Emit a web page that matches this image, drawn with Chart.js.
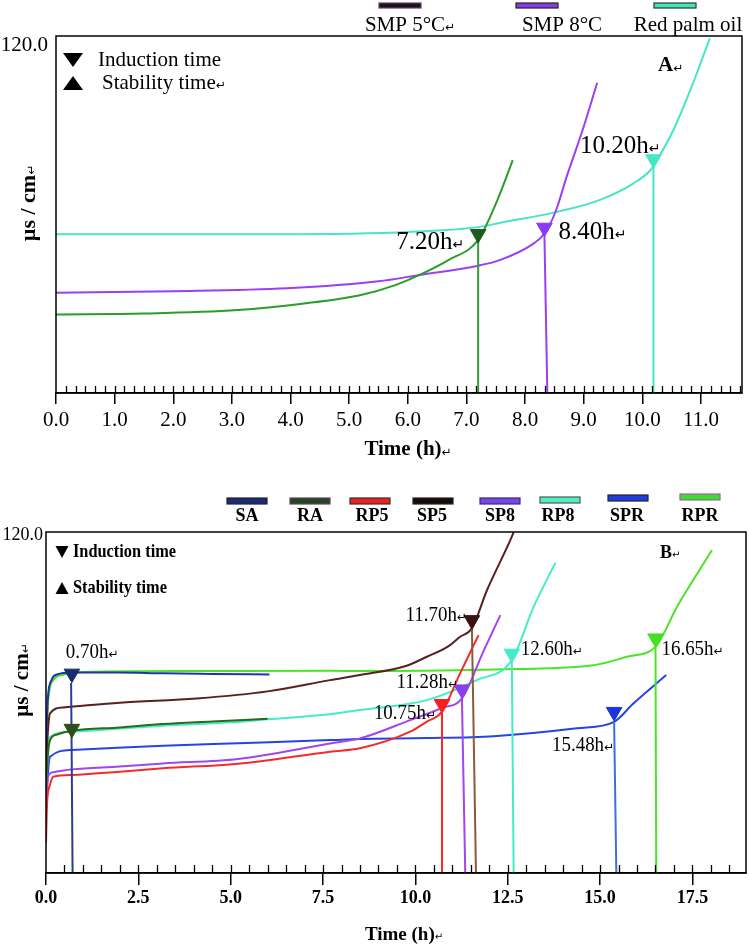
<!DOCTYPE html>
<html>
<head>
<meta charset="utf-8">
<script src="https://cdn.jsdelivr.net/npm/chart.js@4.4.1/dist/chart.umd.min.js"></script>
<style>
  body { margin: 0; background: #fff; }
  #wrap { position: relative; width: 749px; height: 950px; }
  canvas { position: absolute; left: 0; }
  #chartA { top: 0; }
  #chartB { top: 470px; }
</style>
</head>
<body>
<div id="wrap">
  <canvas id="chartA" width="749" height="470"></canvas>
  <canvas id="chartB" width="749" height="480"></canvas>
</div>
<script>
// ---------- panel A : time (h) vs conductivity ----------
const legendA = ['SMP 5°C↵', 'SMP 8°C', 'Red palm oil'];
const smp5T = [0, 1.5, 3.1, 4.2, 5.2, 5.8, 6.2, 6.7, 7.2, 7.53, 7.79];
const smp5V = [27.1, 27.4, 28.6, 30.8, 33.8, 37.3, 40.7, 45.9, 52.8, 66.6, 80.3];
const smp8T = [0, 2, 3.94, 5.5, 6.2, 7.2, 7.58, 8.15, 8.33, 8.52, 8.71, 9.0, 9.23];
const smp8V = [34.6, 35.1, 36.1, 38.5, 40.7, 43.9, 45.9, 51.6, 55.0, 62.5, 74.6, 91.8, 107];
const rpoT = [0, 3, 5.57, 6.5, 7.2, 7.58, 8.49, 9.28, 9.85, 10.14, 10.25, 10.53, 10.82, 11.15];
const rpoV = [54.7, 54.7, 55.2, 56.0, 57.2, 58.7, 62.2, 66.6, 72.3, 76.9, 80.3, 90.7, 104.5, 122.3];
const markAT = [7.2, 8.33, 10.19];
const markAV = [54.8, 57.0, 80.6];
const markALabels = ['7.20h↵', '8.40h↵', '10.20h↵'];
const dropAT0 = [7.2, 8.33, 10.19];
const dropAT1 = [7.2, 8.38, 10.19];
const dropAV0 = [52.8, 55.0, 78.5];

// ---------- panel B ----------
const legendB = ['SA', 'RA', 'RP5', 'SP5', 'SP8', 'RP8', 'SPR', 'RPR'];
const saT = [0, 0.05, 0.15, 0.3, 0.7, 2, 3.17, 4.5, 6.05];
const saV = [45, 62, 68.5, 70.5, 71.2, 71.2, 70.9, 70.7, 70.5];
const raT = [0, 0.05, 0.11, 0.3, 0.7, 2, 3.17, 4.5, 6.0];
const raV = [30, 42, 47.2, 49.2, 50.5, 51.7, 52.9, 53.8, 54.8];
const rp5T = [0, 0.03, 0.1, 0.2, 0.7, 2, 3.17, 5.2, 7.69, 8.5, 9.86, 10.3, 10.72, 11.21, 11.71];
const rp5V = [10.6, 25, 31, 34.2, 34.8, 36, 37.2, 38.8, 43.1, 44.3, 50.2, 53.7, 57.3, 70.9, 84.5];
const sp5T = [0, 0.05, 0.11, 0.47, 2, 4.08, 6, 7.69, 8.5, 9.74, 10.31, 10.9, 11.21, 11.53, 11.94, 12.57, 12.66];
const sp5V = [35, 50, 56.7, 58.8, 60.5, 62, 64.5, 68.5, 70.3, 73.5, 76.8, 80.6, 83.9, 86.9, 100.5, 118.2, 121];
const sp8T = [0, 0.05, 0.2, 0.7, 2, 3.17, 5.2, 7.69, 8.5, 9.86, 10.72, 11.26, 11.85, 12.3];
const sp8V = [22, 34.2, 35.8, 36.8, 37.8, 38.9, 40.5, 46.0, 47.8, 54.3, 58.6, 62, 79, 91.6];
const rp8T = [0, 0.05, 0.11, 0.7, 2, 3.17, 5, 6, 7.69, 8.5, 10.31, 11.66, 12.61, 13.2, 13.79];
const rp8V = [28, 42, 48.4, 50.2, 51.3, 52.3, 53.5, 54.6, 56.4, 57.9, 61.4, 68.5, 75.6, 94.5, 110.2];
const sprT = [0, 0.05, 0.11, 0.7, 3.17, 5.2, 7.69, 8.5, 10.31, 12.12, 14.37, 15.38, 15.9, 16.79];
const sprV = [22, 35, 41.3, 43.7, 45.2, 46.1, 47.2, 47.6, 47.9, 48.6, 51.4, 53.7, 60.2, 70.3];
const rprT = [0, 0.06, 0.2, 0.5, 1.37, 4, 7.7, 8.5, 12.12, 14.82, 15.73, 16.5, 17.08, 18.03];
const rprV = [38, 61.4, 68.5, 70.5, 71.5, 71.7, 71.8, 71.7, 72.3, 73.8, 76.8, 80.3, 94.5, 114.7];
const markBT = [0.7, 0.7, 10.72, 11.53, 11.26, 12.61, 15.38, 16.5];
const markBV = [70.8, 51.2, 60.0, 89.8, 65.2, 77.9, 57.2, 83.3];
const markBLabels = ['0.70h↵', '', '10.75h↵', '11.70h↵', '11.28h↵', '12.60h↵', '15.48h↵', '16.65h↵'];
const dropBT0 = [0.68, 10.72, 11.53, 11.26, 12.61, 15.38, 16.5];
const dropBT1 = [0.72, 10.72, 11.64, 11.35, 12.66, 15.44, 16.52];
const dropBV0 = [67.5, 57.3, 86.9, 62, 75.6, 53.7, 80.3];

const yTicks = [120];

// ---------- styles ----------
const SERIF = '"Liberation Serif", "Times New Roman", serif';
const colA = ['#2a9d2a', '#9b3ff0', '#45e6c5'];
const markColA = ['#1f5a1f', '#8a3af0', '#45e6c5'];
const dropColA = ['#3a9a3a', '#9b3ff0', '#45e6c5'];
const swFillA = ['#151515', '#8a3ae8', '#3fe8b8'];
const swEdgeA = ['#6a3a6a', '#222', '#333'];
const noteA = [{dx: -14, dy: 8, al: 'right'}, {dx: 14, dy: 5, al: 'left'}, {dx: 7, dy: -13, al: 'right'}];

const colB = ['#2233aa', '#2a6a1a', '#f52a2a', '#5a1f1f', '#a045f0', '#45ecc8', '#2444e8', '#4ae626'];
const markColB = ['#1c2a70', '#2d4d1d', '#f52020', '#3a1212', '#8a40e8', '#45ecc8', '#1a35e0', '#45e020'];
const dropColB = ['#27408f', '#f52a2a', '#8b5a3a', '#a045f0', '#45ecc8', '#3f6fd8', '#4ae626'];
const swFillB = ['#1d2a78', '#1e4a1e', '#f02020', '#1a0a0a', '#7b46e0', '#4ef0c0', '#1f3de0', '#3ae028'];
const swEdgeB = ['#222', '#6a3a6a', '#333', '#222', '#2a2a8a', '#555', '#222', '#a060a0'];
const noteB = [{dx: -6, dy: -21, al: 'left'}, null, {dx: -6, dy: 9, al: 'right'}, {dx: -5, dy: -5, al: 'right'},
               {dx: -4, dy: -7, al: 'right'}, {dx: 9, dy: -4, al: 'left'}, {dx: 0, dy: 33, al: 'right'},
               {dx: 6, dy: 11, al: 'left'}];

const pts = (t, v) => t.map((x, i) => ({x: x, y: v[i]}));

const curve = (t, v, color) => ({
  data: pts(t, v), borderColor: color, borderWidth: 2, pointRadius: 0,
  cubicInterpolationMode: 'monotone', fill: false, order: 3
});
const drop = (t0, t1, v0, color) => ({
  data: [{x: t0, y: v0}, {x: t1, y: 0}], borderColor: color, borderWidth: 2,
  pointRadius: 0, tension: 0, fill: false, order: 2
});
const marks = (t, v, colors) => ({
  data: pts(t, v), showLine: false, pointStyle: 'triangle', rotation: 180, pointRadius: 9,
  pointBackgroundColor: colors, pointBorderColor: colors, pointBorderWidth: 1, order: 1
});

// text with the small word-processor return mark; sx squeezes the text sideways
function label(ctx, str, x, y, size, align, weight, sx) {
  sx = sx || 1;
  const ret = str.endsWith('↵');
  const main = ret ? str.slice(0, -1) : str;
  const f1 = (weight || 'normal') + ' ' + size + 'px ' + SERIF;
  const f2 = Math.round(size * 0.55) + 'px "DejaVu Sans"';
  ctx.font = f1;
  const w1 = ctx.measureText(main).width * sx;
  let w2 = 0;
  if (ret) { ctx.font = f2; w2 = ctx.measureText('↵').width; }
  const x0 = align === 'center' ? x - (w1 + w2) / 2 : align === 'right' ? x - w1 - w2 : x;
  ctx.fillStyle = '#000';
  ctx.textAlign = 'left';
  ctx.textBaseline = 'middle';
  ctx.save();
  ctx.translate(x0, y);
  ctx.scale(sx, 1);
  ctx.font = f1;
  ctx.fillText(main, 0, 0);
  ctx.restore();
  if (ret) { ctx.font = f2; ctx.fillText('↵', x0 + w1, y + size * 0.12); }
}

function tri(ctx, cx, cy, w, h, down) {
  ctx.fillStyle = '#000';
  ctx.beginPath();
  if (down) {
    ctx.moveTo(cx - w / 2, cy - h / 2); ctx.lineTo(cx + w / 2, cy - h / 2); ctx.lineTo(cx, cy + h / 2);
  } else {
    ctx.moveTo(cx - w / 2, cy + h / 2); ctx.lineTo(cx + w / 2, cy + h / 2); ctx.lineTo(cx, cy - h / 2);
  }
  ctx.closePath();
  ctx.fill();
}

function decor(o) {
  return {
    id: 'decor' + o.name,
    afterDraw(chart) {
      const ctx = chart.ctx, a = chart.chartArea, xs = chart.scales.x, ys = chart.scales.y;
      ctx.save();
      // inward ticks on the time axis
      ctx.strokeStyle = '#000';
      ctx.lineWidth = 1.3;
      for (let i = 1; i * o.minorStep <= xs.max; i++) {
        const px = Math.round(xs.getPixelForValue(i * o.minorStep)) + 0.5;
        ctx.beginPath(); ctx.moveTo(px, a.bottom); ctx.lineTo(px, a.bottom - o.minorLen); ctx.stroke();
      }
      // frame
      ctx.lineWidth = 1.5;
      ctx.strokeRect(a.left, a.top, a.right - a.left, a.bottom - a.top);
      // legend swatches + names
      o.names.forEach((n, i) => {
        const s = o.sw[i];
        ctx.fillStyle = o.swFill[i];
        ctx.strokeStyle = o.swEdge[i];
        ctx.lineWidth = 1.2;
        ctx.fillRect(s.x, s.y, s.w, o.swH);
        ctx.strokeRect(s.x, s.y, s.w, o.swH);
        label(ctx, n, o.nameX[i], o.nameY, o.nameSize, 'center', o.nameWeight);
      });
      // key
      tri(ctx, o.key.x, o.key.y1, o.key.w, o.key.h, true);
      tri(ctx, o.key.x, o.key.y2, o.key.w, o.key.h, false);
      label(ctx, 'Induction time', o.key.tx1, o.key.y1, o.key.size, 'left', o.key.weight, o.key.sx);
      label(ctx, o.key.stab, o.key.tx2, o.key.y2, o.key.size, 'left', o.key.weight, o.key.sx);
      label(ctx, o.tag, o.tagX, o.tagY, o.tagSize, 'left', 'bold');
      // marker notes
      o.notes.forEach((txt, i) => {
        const st = o.noteStyle[i];
        if (!txt || !st) return;
        const px = xs.getPixelForValue(o.markT[i]);
        const py = ys.getPixelForValue(o.markV[i]);
        label(ctx, txt, px + st.dx, py + st.dy, o.noteSize, st.al, 'normal', o.noteSx);
      });
      // axis titles
      label(ctx, 'Time (h)↵', o.xt.x, o.xt.y, o.xt.size, 'center', 'bold');
      ctx.save();
      ctx.translate(o.yt.x, o.yt.y);
      ctx.rotate(-Math.PI / 2);
      label(ctx, 'µs / cm↵', 0, 0, o.yt.size, 'center', 'bold');
      ctx.restore();
      ctx.restore();
    }
  };
}

function options(o) {
  return {
    responsive: false, animation: false, events: [],
    layout: {autoPadding: false, padding: {top: o.top, right: o.right, left: 0, bottom: 0}},
    plugins: {legend: {display: false}, tooltip: {enabled: false}},
    scales: {
      x: {
        type: 'linear', min: 0, max: o.xMax,
        afterFit: s => { s.height = o.xH; s.paddingLeft = 0; s.paddingRight = 0; },
        ticks: {stepSize: o.step, includeBounds: false, autoSkip: false, maxRotation: 0,
                padding: o.tickPad, color: '#000', font: {family: SERIF, size: o.tickSize, weight: o.tickWeight},
                callback: v => v.toFixed(1)},
        grid: {drawOnChartArea: false, drawTicks: true, tickLength: o.tickLen, color: '#000', lineWidth: 1.5},
        border: {display: true, color: '#000', width: 1.5}
      },
      y: {
        min: 0, max: o.yMax,
        afterFit: s => { s.width = o.yW; s.paddingTop = 0; s.paddingBottom = 0; },
        afterBuildTicks: s => { s.ticks = yTicks.map(v => ({value: v})); },
        ticks: {padding: o.yPad, color: '#000', font: {family: SERIF, size: o.yTickSize},
                callback: v => v.toFixed(1)},
        grid: {display: false, drawTicks: false},
        border: {display: false}
      }
    }
  };
}

// ---------- chart A ----------
new Chart(document.getElementById('chartA'), {
  type: 'line',
  data: {
    datasets: [
      marks(markAT, markAV, markColA),
      ...dropAT0.map((t, i) => drop(t, dropAT1[i], dropAV0[i], dropColA[i])),
      curve(smp5T, smp5V, colA[0]),
      curve(smp8T, smp8V, colA[1]),
      curve(rpoT, rpoV, colA[2])
    ]
  },
  options: options({top: 36, right: 7, xMax: 11.7, xH: 77, step: 1, tickPad: 4, tickLen: 11,
                    yMax: 123.1, yW: 56, yPad: 8, tickSize: 21, tickWeight: 'normal', yTickSize: 21}),
  plugins: [decor({
    name: 'A', minorStep: 1 / 6, minorLen: 7,
    names: legendA, sw: [{x: 379, y: 3, w: 42}, {x: 516, y: 3, w: 42}, {x: 654, y: 3, w: 42}], swH: 5,
    swFill: swFillA, swEdge: swEdgeA, nameX: [410, 562, 688], nameY: 25, nameSize: 21, nameWeight: 'normal',
    key: {x: 73, y1: 60, y2: 83, w: 20, h: 14, tx1: 98, tx2: 102, size: 21, weight: 'normal', stab: 'Stability time↵'},
    tag: 'A↵', tagX: 658, tagY: 66, tagSize: 21,
    notes: markALabels, noteStyle: noteA, markT: markAT, markV: markAV, noteSize: 25,
    xt: {x: 408, y: 450, size: 21}, yt: {x: 29, y: 203, size: 22}
  })]
});

// ---------- chart B ----------
new Chart(document.getElementById('chartB'), {
  type: 'line',
  data: {
    datasets: [
      marks(markBT, markBV, markColB),
      ...dropBT0.map((t, i) => drop(t, dropBT1[i], dropBV0[i], dropColB[i])),
      curve(saT, saV, colB[0]),
      curve(raT, raV, colB[1]),
      curve(rp5T, rp5V, colB[2]),
      curve(sp5T, sp5V, colB[3]),
      curve(sp8T, sp8V, colB[4]),
      curve(rp8T, rp8V, colB[5]),
      curve(sprT, sprV, colB[6]),
      curve(rprT, rprV, colB[7])
    ]
  },
  options: options({top: 62, right: 3, xMax: 18.95, xH: 77, step: 2.5, tickPad: 3, tickLen: 12,
                    yMax: 121.1, yW: 46, yPad: 3, tickSize: 18, tickWeight: 'bold', yTickSize: 18}),
  plugins: [decor({
    name: 'B', minorStep: 0.5, minorLen: 8,
    names: legendB,
    sw: [{x: 227, y: 28, w: 40}, {x: 290, y: 28, w: 40}, {x: 350, y: 28, w: 40}, {x: 413, y: 28, w: 40},
         {x: 480, y: 28, w: 40}, {x: 540, y: 27, w: 40}, {x: 608, y: 25, w: 40}, {x: 680, y: 24, w: 40}], swH: 6,
    swFill: swFillB, swEdge: swEdgeB, nameX: [247, 310, 372, 432, 500, 558, 627, 700], nameY: 46,
    nameSize: 18, nameWeight: 'bold',
    key: {x: 62, y1: 82, y2: 118, w: 13, h: 12, tx1: 73, tx2: 73, size: 19, weight: 'bold', stab: 'Stability time', sx: 0.86},
    tag: 'B↵', tagX: 660, tagY: 83, tagSize: 18,
    notes: markBLabels, noteStyle: noteB, markT: markBT, markV: markBV, noteSize: 22, noteSx: 0.86,
    xt: {x: 404, y: 465, size: 19}, yt: {x: 23, y: 210, size: 21}
  })]
});
</script>
</body>
</html>
